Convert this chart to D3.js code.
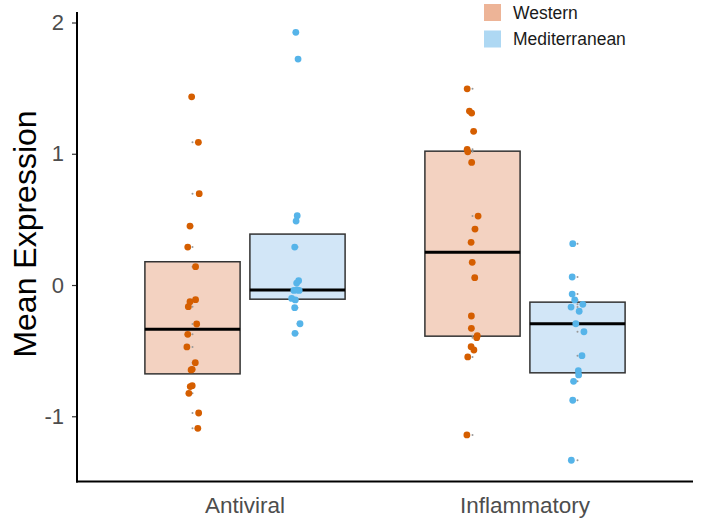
<!DOCTYPE html>
<html><head><meta charset="utf-8">
<script src="https://cdn.jsdelivr.net/npm/d3@7"></script>
<style>body{margin:0;background:#fff}svg{display:block;font-family:"Liberation Sans",Arial,sans-serif}</style>
</head><body><svg id="c" width="702" height="521"></svg>
<script>
const categories = ["Antiviral", "Inflammatory"];
const diets = ["Western", "Mediterranean"];
const yTicks = [-1, 0, 1, 2];
const yLabel = "Mean Expression";

// Values (one dot per sample)
const antiviralWestern = [1.434,1.087,0.696,0.449,0.289,0.140,-0.112,-0.127,-0.165,-0.297,-0.376,-0.472,-0.592,-0.642,-0.647,-0.767,-0.774,-0.825,-0.975,-1.092];
const antiviralMediterranean = [1.925,1.721,0.528,0.487,0.289,0.033,0.015,-0.041,-0.041,-0.038,-0.102,-0.114,-0.173,-0.295,-0.368];
const inflammatoryWestern = [1.495,1.325,1.310,1.171,1.034,1.015,0.934,0.525,0.426,0.325,0.173,0.056,-0.236,-0.330,-0.386,-0.401,-0.470,-0.495,-0.548,-1.142];
const inflammatoryMediterranean = [0.315,0.061,-0.069,-0.114,-0.147,-0.168,-0.200,-0.295,-0.356,-0.538,-0.653,-0.685,-0.734,-0.878,-1.335];

// horizontal jitter of each dot, in x-axis units
const antiviralWesternJitter = [-0.003,0.021,0.024,-0.009,-0.017,0.011,0.011,-0.009,-0.015,0.015,-0.017,-0.020,0.010,-0.001,-0.005,-0.001,-0.008,-0.013,0.022,0.019];
const antiviralMediterraneanJitter = [-0.006,0.002,-0.001,-0.005,-0.010,0.004,-0.003,-0.013,0.006,-0.002,-0.021,-0.008,-0.010,0.009,-0.009];
const inflammatoryWesternJitter = [-0.019,-0.011,-0.003,0.004,-0.019,-0.017,-0.003,0.020,0.009,-0.005,-0.001,0.008,-0.004,-0.004,0.017,0.015,-0.005,0.005,-0.017,-0.020];
const inflammatoryMediterraneanJitter = [-0.017,-0.019,-0.019,-0.010,0.019,-0.023,0.006,-0.006,0.023,0.016,0.003,0.004,-0.014,-0.017,-0.022];

const groups = [
  {cat: 0, diet: 0, values: antiviralWestern, jitter: antiviralWesternJitter},
  {cat: 0, diet: 1, values: antiviralMediterranean, jitter: antiviralMediterraneanJitter},
  {cat: 1, diet: 0, values: inflammatoryWestern, jitter: inflammatoryWesternJitter},
  {cat: 1, diet: 1, values: inflammatoryMediterranean, jitter: inflammatoryMediterraneanJitter}
];

const pointColor = {Western: "#D55E00", Mediterranean: "#56B4E9"};
const boxFill = {Western: "#F3D2C1", Mediterranean: "#D2E6F7"};
const keyFill = {Western: "#EDB497", Mediterranean: "#AED8F3"};

const svg = d3.select("#c");
const x = d3.scaleLinear().domain([0.4, 2.6]).range([77, 693]);
const y = d3.scaleLinear().domain([-1.497, 2.08]).range([481.5, 12]);
const dodge = 0.1875, halfBox = 0.17;

// boxes
groups.forEach(g => {
  const s = g.values.slice().sort(d3.ascending);
  const q1 = d3.quantile(s, 0.25), med = d3.quantile(s, 0.5), q3 = d3.quantile(s, 0.75);
  const cx = (g.cat + 1) + (g.diet === 0 ? -dodge : dodge);
  g.cx = cx;
  const dn = diets[g.diet];
  svg.append("rect")
    .attr("x", x(cx - halfBox)).attr("y", y(q3))
    .attr("width", x(cx + halfBox) - x(cx - halfBox)).attr("height", y(q1) - y(q3))
    .attr("fill", boxFill[dn]).attr("stroke", "#333").attr("stroke-width", 1.5);
  svg.append("line")
    .attr("x1", x(cx - halfBox)).attr("x2", x(cx + halfBox))
    .attr("y1", y(med)).attr("y2", y(med))
    .attr("stroke", "#000").attr("stroke-width", 3);
});

// tiny grey raw points at group centre, then jittered coloured dots
groups.forEach(g => {
  svg.append("g").selectAll("circle").data(g.values).join("circle")
    .attr("cx", x(g.cx)).attr("cy", d => y(d)).attr("r", 1).attr("fill", "#999");
});
groups.forEach(g => {
  const dn = diets[g.diet];
  svg.append("g").selectAll("circle").data(g.values).join("circle")
    .attr("cx", (d, i) => x(g.cx + g.jitter[i])).attr("cy", d => y(d))
    .attr("r", 3.4).attr("fill", pointColor[dn]);
});

// axes
const yAxis = svg.append("g").attr("transform", "translate(77,0)")
  .call(d3.axisLeft(y).tickValues(yTicks).tickSize(5).tickPadding(8).tickFormat(d => String(d)));
yAxis.select(".domain").remove();
yAxis.selectAll(".tick line").attr("stroke", "#333").attr("stroke-width", 1.2);
yAxis.selectAll(".tick text").attr("fill", "#4D4D4D").attr("font-size", 22)
  .attr("font-family", "Liberation Sans, Arial, sans-serif");

svg.append("line").attr("x1", 77).attr("x2", 77).attr("y1", 12).attr("y2", 482.5)
  .attr("stroke", "#000").attr("stroke-width", 2);
svg.append("line").attr("x1", 76).attr("x2", 693).attr("y1", 481.5).attr("y2", 481.5)
  .attr("stroke", "#000").attr("stroke-width", 2);

svg.append("g").selectAll("text").data(categories).join("text")
  .attr("x", (d, i) => x(i + 1)).attr("y", 513)
  .attr("text-anchor", "middle").attr("font-size", 22.5).attr("fill", "#4D4D4D")
  .text(d => d);

svg.append("text").attr("transform", "translate(35.5,234) rotate(-90)")
  .attr("text-anchor", "middle").attr("font-size", 32).attr("fill", "#000")
  .text(yLabel);

// legend
const lg = svg.append("g");
diets.forEach((d, i) => {
  lg.append("rect").attr("x", 484).attr("y", 4 + i * 26.5).attr("width", 17).attr("height", 17)
    .attr("fill", keyFill[d]);
  lg.append("text").attr("x", 513).attr("y", 18.5 + i * 26.5)
    .attr("font-size", 17.5).attr("fill", "#1a1a1a").text(d);
});
</script></body></html>
